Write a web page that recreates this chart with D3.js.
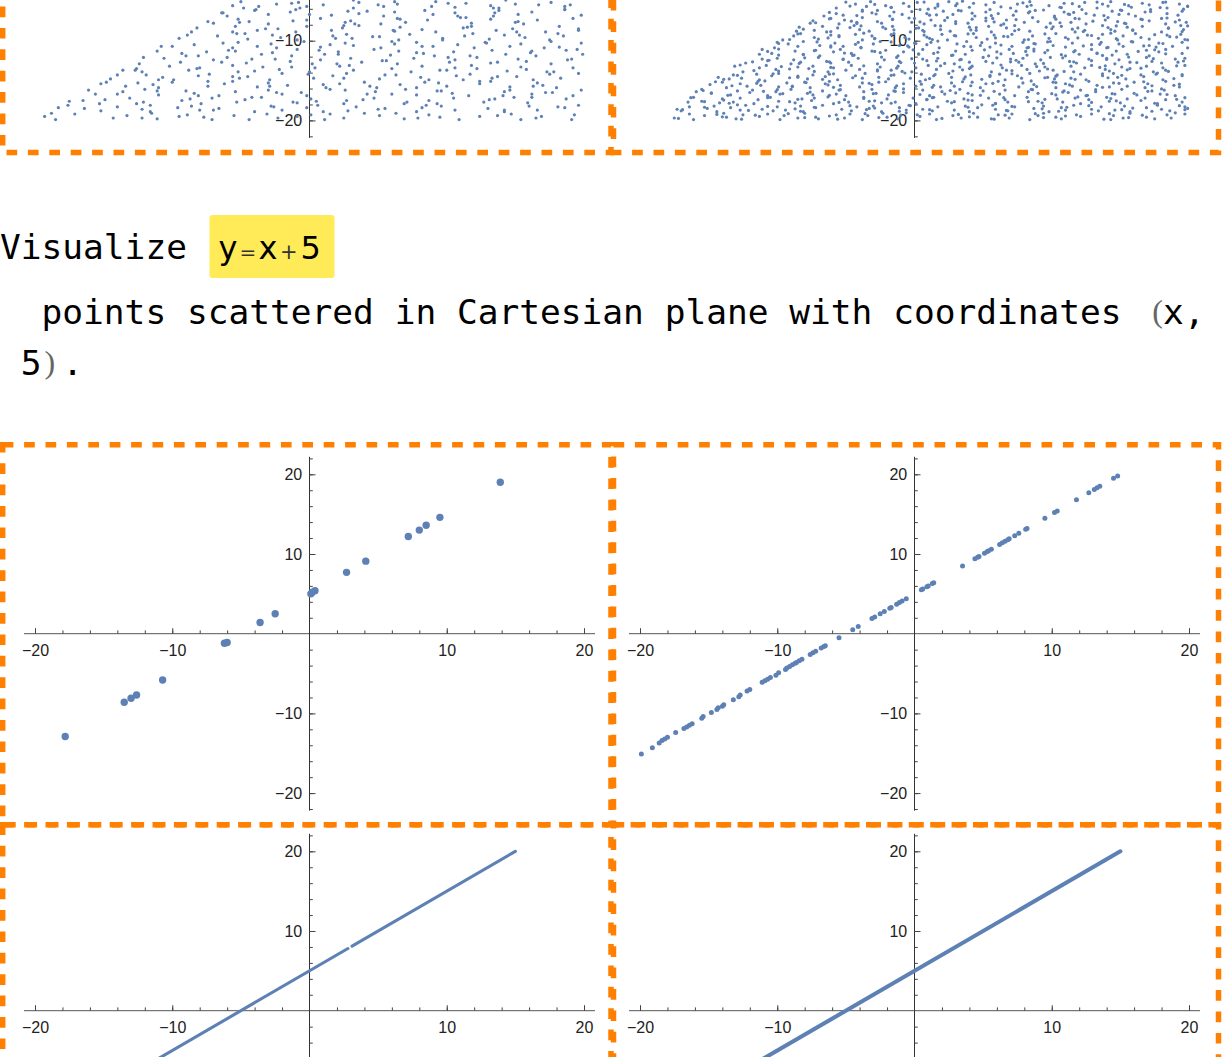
<!DOCTYPE html>
<html><head><meta charset="utf-8">
<script src="https://cdn.jsdelivr.net/npm/d3@7"></script>
<style>html,body{margin:0;padding:0;background:#fff;overflow:hidden}svg{display:block}</style>
</head><body>
<svg id="c" width="1226" height="1057"></svg>
<script>
// ---------------- data ----------------
const majorTicks = [-20, -10, 10, 20];
const majorTickLabels = ["\u221220", "\u221210", "10", "20"];
const xMinorTicks = [-20,-18,-16,-14,-12,-10,-8,-6,-4,-2,2,4,6,8,10,12,14,16,18,20];
const yMinorTicks = [-22,-20,-18,-16,-14,-12,-10,-8,-6,-4,-2,2,4,6,8,10,12,14,16,18,20,22];

// top-left panel: scattered points (x,y pairs), only the visible lower part
const topLeftXY = [
-19.3,-19.5,-18.5,-19.9,-17.1,-19.2,-14.3,-19.7,-13.3,-19.4,-11.5,-19.1,-11.1,-19.8,-8.9,-19.3,-7.7,-19.6,-7.1,-19.9,-5.5,-19.4,-3.1,-19.2,-2.3,-19.7,-0.9,-19.5,1.1,-19.9,1.5,-19.2,2.5,-19.7,5.1,-19.4,6.3,-19.1,6.9,-19.8,8.7,-19.3,9.5,-19.6,10.9,-19.9,13.7,-19.4,14.7,-19.2,16.5,-19.7,16.9,-19.5,19.1,-19.9,
-18.3,-18.4,-17.6,-18.1,-15.2,-18.8,-14.0,-18.3,-12.2,-18.6,-11.6,-18.9,-9.6,-18.4,-8.6,-18.2,-7.0,-18.7,-6.6,-18.5,-4.0,-18.9,-2.8,-18.2,-2.0,-18.7,-0.2,-18.4,0.6,-18.1,2.8,-18.8,3.4,-18.3,5.0,-18.6,7.8,-18.9,8.2,-18.4,9.6,-18.2,10.6,-18.7,13.0,-18.5,14.2,-18.9,16.0,-18.2,16.6,-18.7,18.6,-18.4,19.6,-18.1,
-17.5,-17.6,-15.3,-17.9,-14.9,-17.4,-13.1,-17.2,-12.1,-17.7,-9.3,-17.5,-7.9,-17.9,-7.1,-17.2,-5.3,-17.7,-4.7,-17.4,-3.5,-17.1,-0.9,-17.8,0.1,-17.3,0.5,-17.6,2.5,-17.9,3.9,-17.4,4.7,-17.2,7.1,-17.7,8.7,-17.5,9.3,-17.9,10.5,-17.2,12.7,-17.7,13.1,-17.4,14.9,-17.1,15.9,-17.8,18.7,-17.3,
-16.1,-16.2,-14.0,-16.7,-13.6,-16.4,-12.0,-16.1,-11.0,-16.8,-9.0,-16.3,-8.4,-16.6,-6.6,-16.9,-5.4,-16.4,-3.0,-16.2,-2.0,-16.7,-0.6,-16.5,-0.2,-16.9,2.6,-16.2,4.2,-16.7,4.8,-16.4,7.0,-16.1,7.8,-16.8,9.6,-16.3,10.4,-16.6,11.6,-16.9,14.2,-16.4,14.6,-16.2,16.2,-16.7,17.2,-16.5,19.2,-16.9,19.8,-16.2,
-15.2,-15.4,-14.8,-15.2,-13.4,-15.7,-11.4,-15.5,-11.0,-15.9,-10.0,-15.2,-7.4,-15.7,-6.2,-15.4,-5.6,-15.1,-3.8,-15.8,-3.0,-15.3,-1.6,-15.6,1.2,-15.9,2.2,-15.4,4.0,-15.2,4.4,-15.7,6.6,-15.5,7.8,-15.9,8.4,-15.2,10.0,-15.7,12.4,-15.4,13.2,-15.1,14.6,-15.8,16.6,-15.3,17.0,-15.6,18.0,-15.9,
-14.5,-14.8,-11.9,-14.3,-10.7,-14.6,-9.9,-14.9,-8.1,-14.4,-7.3,-14.2,-5.1,-14.7,-4.5,-14.5,-2.9,-14.9,-0.1,-14.2,0.3,-14.7,1.7,-14.4,2.7,-14.1,5.1,-14.8,6.3,-14.3,8.1,-14.6,8.7,-14.9,10.7,-14.4,11.7,-14.2,13.3,-14.7,13.7,-14.5,16.3,-14.9,17.5,-14.2,18.3,-14.7,
-13.6,-13.7,-12.6,-13.5,-12.2,-13.9,-10.2,-13.2,-8.8,-13.7,-8.0,-13.4,-5.6,-13.1,-4.0,-13.8,-3.4,-13.3,-2.2,-13.6,0.0,-13.9,0.4,-13.4,2.2,-13.2,3.2,-13.7,6.0,-13.5,7.4,-13.9,8.2,-13.2,10.0,-13.7,10.6,-13.4,11.8,-13.1,14.4,-13.8,15.4,-13.3,15.8,-13.6,17.8,-13.9,19.2,-13.4,
-12.4,-12.9,-10.6,-12.2,-9.4,-12.7,-7.0,-12.4,-6.0,-12.1,-4.6,-12.8,-4.2,-12.3,-1.4,-12.6,0.2,-12.9,0.8,-12.4,3.0,-12.2,3.8,-12.7,5.6,-12.5,6.4,-12.9,7.6,-12.2,10.2,-12.7,10.6,-12.4,12.2,-12.1,13.2,-12.8,15.2,-12.3,15.8,-12.6,17.6,-12.9,18.8,-12.4,
-11.1,-11.3,-9.3,-11.6,-8.1,-11.9,-7.5,-11.4,-5.9,-11.2,-3.5,-11.7,-2.7,-11.5,-1.3,-11.9,0.7,-11.2,1.1,-11.7,2.1,-11.4,4.7,-11.1,5.9,-11.8,6.5,-11.3,8.3,-11.6,9.1,-11.9,10.5,-11.4,13.3,-11.2,14.3,-11.7,16.1,-11.5,16.5,-11.9,18.7,-11.2,19.9,-11.7,
-10.0,-10.7,-8.4,-10.5,-5.6,-10.9,-5.2,-10.2,-3.8,-10.7,-2.8,-10.4,-0.4,-10.1,0.8,-10.8,2.6,-10.3,3.2,-10.6,5.2,-10.9,6.2,-10.4,7.8,-10.2,8.2,-10.7,10.8,-10.5,12.0,-10.9,12.8,-10.2,14.6,-10.7,15.4,-10.4,17.6,-10.1,18.2,-10.8,19.8,-10.3,
-9.5,-9.7,-6.7,-9.4,-5.3,-9.1,-4.5,-9.8,-2.7,-9.3,-2.1,-9.6,-0.9,-9.9,1.7,-9.4,2.7,-9.2,3.1,-9.7,5.1,-9.5,6.5,-9.9,7.3,-9.2,9.7,-9.7,11.3,-9.4,11.9,-9.1,13.1,-9.8,15.3,-9.3,15.7,-9.6,17.5,-9.9,18.5,-9.4,
-8.6,-8.9,-8.2,-8.4,-5.4,-8.2,-3.8,-8.7,-3.2,-8.5,-1.0,-8.9,-0.2,-8.2,1.6,-8.7,2.4,-8.4,3.6,-8.1,6.2,-8.8,6.6,-8.3,8.2,-8.6,9.2,-8.9,11.2,-8.4,11.8,-8.2,13.6,-8.7,14.8,-8.5,17.2,-8.9,18.2,-8.2,19.6,-8.7,
-7.4,-7.6,-7.0,-7.8,-5.2,-7.3,-4.4,-7.6,-3.0,-7.9,-0.2,-7.4,0.8,-7.2,2.6,-7.7,3.0,-7.5,5.2,-7.9,6.4,-7.2,7.0,-7.7,8.6,-7.4,11.0,-7.1,11.8,-7.8,13.2,-7.3,15.2,-7.6,15.6,-7.9,16.6,-7.4,19.2,-7.2,
-6.3,-6.5,-6.0,-6.9,-4.0,-6.2,-3.0,-6.7,-1.4,-6.4,-1.0,-6.1,1.6,-6.8,2.8,-6.3,3.6,-6.6,5.4,-6.9,6.2,-6.4,8.4,-6.2,9.0,-6.7,10.6,-6.5,13.4,-6.9,13.8,-6.2,15.2,-6.7,16.2,-6.4,18.6,-6.1,19.8,-6.8,
-5.6,-5.6,-4.8,-5.9,-2.4,-5.4,-0.8,-5.2,-0.2,-5.7,1.0,-5.5,3.2,-5.9,3.6,-5.2,5.4,-5.7,6.4,-5.4,9.2,-5.1,10.6,-5.8,11.4,-5.3,13.2,-5.6,13.8,-5.9,15.0,-5.4,17.6,-5.2,18.6,-5.7,19.0,-5.5,
-18.8,-19.1,-16.4,-18.5,-12.2,-19.7,-11.6,-18.1,-9.5,-19.5,-8.0,-18.7,-4.4,-19.9,-2.6,-18.3,0.1,-19.3,1.0,-18.9,4.0,-19.1,5.5,-18.5,7.9,-19.7,8.5,-18.1,12.4,-19.5,14.2,-18.7,15.4,-19.9,18.1,-18.3,19.3,-19.3,
-16.5,-17.5,-15.6,-16.7,-12.6,-17.9,-11.1,-16.3,-8.7,-17.3,-8.1,-16.9,-4.2,-17.1,-2.4,-16.5,-1.2,-17.7,1.5,-16.1,2.7,-17.5,6.0,-16.7,6.9,-17.9,9.3,-16.3,13.5,-17.3,14.1,-16.9,16.2,-17.1,17.7,-16.5,
-14.0,-14.3,-12.5,-15.3,-11.0,-14.9,-7.4,-15.1,-5.6,-14.5,-2.9,-15.7,-2.0,-14.1,1.0,-15.5,2.5,-14.7,4.9,-15.9,5.5,-14.3,9.4,-15.3,11.2,-14.9,12.4,-15.1,15.1,-14.5,16.3,-15.7,19.6,-14.1,
-12.7,-13.7,-12.1,-12.1,-8.2,-13.5,-6.4,-12.7,-5.2,-13.9,-2.5,-12.3,-1.3,-13.3,2.0,-12.9,2.9,-13.1,5.3,-12.5,9.5,-13.7,10.1,-12.1,12.2,-13.5,13.7,-12.7,17.3,-13.9,19.1,-12.3,
-10.8,-10.7,-9.0,-11.9,-6.3,-10.3,-5.4,-11.3,-2.4,-10.9,-0.9,-11.1,1.5,-10.5,2.1,-11.7,6.0,-10.1,7.8,-11.5,9.0,-10.7,11.7,-11.9,12.9,-10.3,16.2,-11.3,17.1,-10.9,19.5,-11.1,
-8.9,-9.3,-5.6,-8.9,-4.7,-9.1,-2.3,-8.5,1.9,-9.7,2.5,-8.1,4.6,-9.5,6.1,-8.7,9.7,-9.9,11.5,-8.3,14.2,-9.3,15.1,-8.9,18.1,-9.1,19.6,-8.5,
-6.4,-6.5,-5.1,-7.7,-3.9,-6.1,-1.2,-7.5,0.0,-6.7,3.3,-7.9,4.2,-6.3,6.6,-7.3,10.8,-6.9,11.4,-7.1,13.5,-6.5,15.0,-7.7,18.6,-6.1,
-5.0,-5.1,-3.7,-5.7,-1.3,-5.3,-0.7,-5.9,3.2,-4.9,5.0,-5.5,6.2,-5.1,8.9,-5.7,10.1,-5.3,13.4,-5.9,14.3,-4.9,16.7,-5.5
];

// top-right panel: denser scattered points (x,y pairs)
const topRightXY = [
-17.5,-19.7,-16.4,-19.2,-16.1,-19.9,-15.3,-19.4,-13.9,-19.1,-13.7,-19.6,-13.0,-19.8,-12.5,-19.3,-11.3,-19.5,-10.7,-19.2,-9.8,-19.9,-9.5,-19.4,-8.5,-19.7,-8.0,-19.1,-7.2,-19.6,-7.0,-19.8,-5.7,-19.3,-5.1,-19.7,-4.7,-19.2,-3.8,-19.9,-3.4,-19.4,-2.3,-19.1,-2.0,-19.6,-1.2,-19.8,0.2,-19.3,0.4,-19.5,1.1,-19.2,1.6,-19.9,2.8,-19.4,3.4,-19.7,4.3,-19.1,4.6,-19.6,5.6,-19.8,6.1,-19.3,6.9,-19.7,7.1,-19.2,8.4,-19.9,9.0,-19.4,9.4,-19.1,10.3,-19.6,10.7,-19.8,11.8,-19.3,12.1,-19.5,12.9,-19.2,14.3,-19.9,14.5,-19.4,15.2,-19.7,15.7,-19.1,16.9,-19.6,17.5,-19.8,18.4,-19.3,18.7,-19.7,19.7,-19.2,
-17.3,-18.6,-17.0,-18.8,-16.4,-18.3,-15.1,-18.5,-14.6,-18.2,-14.4,-18.9,-13.4,-18.4,-12.7,-18.7,-12.3,-18.1,-11.1,-18.6,-10.3,-18.8,-10.0,-18.3,-9.4,-18.7,-8.3,-18.2,-8.1,-18.9,-7.2,-18.4,-6.7,-18.1,-5.3,-18.6,-4.6,-18.8,-4.2,-18.3,-3.3,-18.5,-3.0,-18.2,-2.4,-18.9,-1.1,-18.4,-0.6,-18.7,-0.4,-18.1,0.6,-18.6,1.3,-18.8,1.7,-18.3,2.9,-18.7,3.7,-18.2,4.0,-18.9,4.6,-18.4,5.7,-18.1,5.9,-18.6,6.8,-18.8,7.3,-18.3,8.7,-18.5,9.4,-18.2,9.8,-18.9,10.7,-18.4,11.0,-18.7,11.6,-18.1,12.9,-18.6,13.4,-18.8,13.6,-18.3,14.6,-18.7,15.3,-18.2,15.7,-18.9,16.9,-18.4,17.7,-18.1,18.0,-18.6,18.6,-18.8,19.7,-18.3,19.9,-18.5,
-16.5,-17.7,-16.1,-17.1,-15.5,-17.6,-14.2,-17.8,-14.0,-17.3,-13.2,-17.7,-12.7,-17.2,-11.7,-17.9,-11.4,-17.4,-10.5,-17.1,-9.9,-17.6,-8.7,-17.8,-8.2,-17.3,-7.5,-17.5,-7.3,-17.2,-5.9,-17.9,-5.1,-17.4,-4.8,-17.7,-3.7,-17.1,-3.3,-17.6,-2.4,-17.8,-2.0,-17.3,-1.4,-17.7,-0.1,-17.2,0.1,-17.9,0.9,-17.4,1.4,-17.1,2.4,-17.6,2.7,-17.8,3.6,-17.3,4.2,-17.5,5.4,-17.2,5.9,-17.9,6.6,-17.4,6.8,-17.7,8.2,-17.1,9.0,-17.6,9.3,-17.8,10.4,-17.3,10.8,-17.7,11.7,-17.2,12.1,-17.9,12.7,-17.4,14.0,-17.1,14.2,-17.6,15.0,-17.8,15.5,-17.3,16.5,-17.5,16.8,-17.2,17.7,-17.9,18.3,-17.4,19.5,-17.7,
-15.9,-16.4,-15.5,-16.1,-14.8,-16.6,-13.4,-16.8,-12.9,-16.3,-12.0,-16.5,-11.8,-16.2,-10.7,-16.9,-10.1,-16.4,-9.8,-16.7,-9.0,-16.1,-7.8,-16.6,-7.4,-16.8,-6.7,-16.3,-5.7,-16.7,-5.5,-16.2,-5.0,-16.9,-3.7,-16.4,-3.1,-16.1,-2.8,-16.6,-1.9,-16.8,-1.5,-16.3,-0.8,-16.5,0.6,-16.2,1.1,-16.9,2.0,-16.4,2.2,-16.7,3.3,-16.1,3.9,-16.6,4.2,-16.8,5.0,-16.3,6.2,-16.7,6.6,-16.2,7.3,-16.9,8.3,-16.4,8.5,-16.1,9.0,-16.6,10.3,-16.8,10.9,-16.3,11.2,-16.5,12.1,-16.2,12.5,-16.9,13.2,-16.4,14.6,-16.7,15.1,-16.1,16.0,-16.6,16.2,-16.8,17.3,-16.3,17.9,-16.7,18.2,-16.2,19.0,-16.9,
-14.9,-15.5,-14.0,-15.2,-13.7,-15.9,-12.7,-15.4,-12.2,-15.7,-11.4,-15.1,-11.2,-15.6,-9.9,-15.8,-9.3,-15.3,-8.9,-15.7,-8.0,-15.2,-7.6,-15.9,-6.5,-15.4,-6.2,-15.1,-5.4,-15.6,-4.0,-15.8,-3.8,-15.3,-3.1,-15.5,-2.6,-15.2,-1.4,-15.9,-0.8,-15.4,0.1,-15.7,0.4,-15.1,1.4,-15.6,1.9,-15.8,2.7,-15.3,2.9,-15.7,4.2,-15.2,4.8,-15.9,5.2,-15.4,6.1,-15.1,6.5,-15.6,7.6,-15.8,7.9,-15.3,8.7,-15.5,10.1,-15.2,10.3,-15.9,11.0,-15.4,11.5,-15.7,12.7,-15.1,13.3,-15.6,14.2,-15.8,14.5,-15.3,15.5,-15.7,16.0,-15.2,16.8,-15.9,17.0,-15.4,18.3,-15.1,18.9,-15.6,19.3,-15.8,
-14.3,-14.6,-13.5,-14.8,-13.2,-14.3,-12.6,-14.7,-11.5,-14.2,-11.3,-14.9,-10.4,-14.4,-9.9,-14.1,-8.5,-14.6,-7.8,-14.8,-7.4,-14.3,-6.5,-14.5,-6.2,-14.2,-5.6,-14.9,-4.3,-14.4,-3.8,-14.7,-3.6,-14.1,-2.6,-14.6,-1.9,-14.8,-1.5,-14.3,-0.3,-14.7,0.5,-14.2,0.8,-14.9,1.4,-14.4,2.5,-14.1,2.7,-14.6,3.6,-14.8,4.1,-14.3,5.5,-14.5,6.2,-14.2,6.6,-14.9,7.5,-14.4,7.8,-14.7,8.4,-14.1,9.7,-14.6,10.2,-14.8,10.4,-14.3,11.4,-14.7,12.1,-14.2,12.5,-14.9,13.7,-14.4,14.5,-14.1,14.8,-14.6,15.4,-14.8,16.5,-14.3,16.7,-14.5,17.6,-14.2,18.1,-14.9,19.5,-14.4,
-13.1,-13.2,-12.5,-13.9,-11.3,-13.4,-10.8,-13.1,-10.1,-13.6,-9.9,-13.8,-8.5,-13.3,-7.7,-13.5,-7.4,-13.2,-6.3,-13.9,-5.9,-13.4,-5.0,-13.7,-4.6,-13.1,-4.0,-13.6,-2.7,-13.8,-2.5,-13.3,-1.7,-13.7,-1.2,-13.2,-0.2,-13.9,0.1,-13.4,1.0,-13.1,1.6,-13.6,2.8,-13.8,3.3,-13.3,4.0,-13.5,4.2,-13.2,5.6,-13.9,6.4,-13.4,6.7,-13.7,7.8,-13.1,8.2,-13.6,9.1,-13.8,9.5,-13.3,10.1,-13.7,11.4,-13.2,11.6,-13.9,12.4,-13.4,12.9,-13.1,13.9,-13.6,14.2,-13.8,15.1,-13.3,15.7,-13.5,16.9,-13.2,17.4,-13.9,18.1,-13.4,18.3,-13.7,19.7,-13.1,
-12.3,-12.8,-11.1,-12.3,-10.7,-12.5,-10.0,-12.2,-9.0,-12.9,-8.8,-12.4,-8.3,-12.7,-7.0,-12.1,-6.4,-12.6,-6.1,-12.8,-5.2,-12.3,-4.8,-12.7,-4.1,-12.2,-2.7,-12.9,-2.2,-12.4,-1.3,-12.1,-1.1,-12.6,0.0,-12.8,0.6,-12.3,0.9,-12.5,1.7,-12.2,2.9,-12.9,3.3,-12.4,4.0,-12.7,5.0,-12.1,5.2,-12.6,5.7,-12.8,7.0,-12.3,7.6,-12.7,7.9,-12.2,8.8,-12.9,9.2,-12.4,9.9,-12.1,11.3,-12.6,11.8,-12.8,12.7,-12.3,12.9,-12.5,14.0,-12.2,14.6,-12.9,14.9,-12.4,15.7,-12.7,16.9,-12.1,17.3,-12.6,18.0,-12.8,19.0,-12.3,19.2,-12.7,19.7,-12.2,
-11.3,-11.7,-11.1,-11.1,-10.4,-11.6,-9.9,-11.8,-8.7,-11.3,-8.1,-11.7,-7.2,-11.2,-6.9,-11.9,-5.9,-11.4,-5.4,-11.1,-4.6,-11.6,-4.4,-11.8,-3.1,-11.3,-2.5,-11.5,-2.1,-11.2,-1.2,-11.9,-0.8,-11.4,0.3,-11.7,0.6,-11.1,1.4,-11.6,2.8,-11.8,3.0,-11.3,3.7,-11.7,4.2,-11.2,5.4,-11.9,6.0,-11.4,6.9,-11.1,7.2,-11.6,8.2,-11.8,8.7,-11.3,9.5,-11.5,9.7,-11.2,11.0,-11.9,11.6,-11.4,12.0,-11.7,12.9,-11.1,13.3,-11.6,14.4,-11.8,14.7,-11.3,15.5,-11.7,16.9,-11.2,17.1,-11.9,17.8,-11.4,18.3,-11.1,19.5,-11.6,
-10.0,-10.2,-10.2,-10.9,-9.2,-10.4,-8.5,-10.7,-8.1,-10.1,-6.9,-10.6,-6.1,-10.8,-5.8,-10.3,-5.2,-10.7,-4.1,-10.2,-3.9,-10.9,-3.0,-10.4,-2.5,-10.1,-1.1,-10.6,-0.4,-10.8,0.0,-10.3,0.9,-10.5,1.2,-10.2,1.8,-10.9,3.1,-10.4,3.6,-10.7,3.8,-10.1,4.8,-10.6,5.5,-10.8,5.9,-10.3,7.1,-10.7,7.9,-10.2,8.2,-10.9,8.8,-10.4,9.9,-10.1,10.1,-10.6,11.0,-10.8,11.5,-10.3,12.9,-10.5,13.6,-10.2,14.0,-10.9,14.9,-10.4,15.2,-10.7,15.8,-10.1,17.1,-10.6,17.6,-10.8,17.8,-10.3,18.8,-10.7,19.5,-10.2,19.9,-10.9,
-9.6,-9.9,-8.8,-9.4,-8.3,-9.1,-7.3,-9.6,-7.0,-9.8,-6.1,-9.3,-5.5,-9.5,-4.3,-9.2,-3.8,-9.9,-3.1,-9.4,-2.9,-9.7,-1.5,-9.1,-0.7,-9.6,-0.4,-9.8,0.7,-9.3,1.1,-9.7,2.0,-9.2,2.4,-9.9,3.0,-9.4,4.3,-9.1,4.5,-9.6,5.3,-9.8,5.8,-9.3,6.8,-9.5,7.1,-9.2,8.0,-9.9,8.6,-9.4,9.8,-9.7,10.3,-9.1,11.0,-9.6,11.2,-9.8,12.6,-9.3,13.4,-9.7,13.7,-9.2,14.8,-9.9,15.2,-9.4,16.1,-9.1,16.5,-9.6,17.1,-9.8,18.4,-9.3,18.6,-9.5,19.4,-9.2,19.9,-9.9,
-8.6,-8.8,-8.4,-8.3,-7.3,-8.7,-6.7,-8.2,-6.4,-8.9,-5.6,-8.4,-4.4,-8.1,-4.0,-8.6,-3.3,-8.8,-2.3,-8.3,-2.1,-8.5,-1.6,-8.2,-0.3,-8.9,0.3,-8.4,0.6,-8.7,1.5,-8.1,1.9,-8.6,2.6,-8.8,4.0,-8.3,4.5,-8.7,5.4,-8.2,5.6,-8.9,6.7,-8.4,7.3,-8.1,7.6,-8.6,8.4,-8.8,9.6,-8.3,10.0,-8.5,10.7,-8.2,11.7,-8.9,11.9,-8.4,12.4,-8.7,13.7,-8.1,14.3,-8.6,14.6,-8.8,15.5,-8.3,15.9,-8.7,16.6,-8.2,18.0,-8.9,18.5,-8.4,19.4,-8.1,19.6,-8.6,
-7.6,-7.8,-7.4,-7.5,-6.1,-7.2,-5.5,-7.9,-5.1,-7.4,-4.2,-7.7,-3.8,-7.1,-2.7,-7.6,-2.4,-7.8,-1.6,-7.3,-0.2,-7.7,0.0,-7.2,0.7,-7.9,1.2,-7.4,2.4,-7.1,3.0,-7.6,3.9,-7.8,4.2,-7.3,5.2,-7.5,5.7,-7.2,6.5,-7.9,6.7,-7.4,8.0,-7.7,8.6,-7.1,9.0,-7.6,9.9,-7.8,10.3,-7.3,11.4,-7.7,11.7,-7.2,12.5,-7.9,13.9,-7.4,14.1,-7.1,14.8,-7.6,15.3,-7.8,16.5,-7.3,17.1,-7.5,18.0,-7.2,18.3,-7.9,19.3,-7.4,19.8,-7.7,
-6.6,-6.9,-5.7,-6.6,-5.2,-6.8,-3.8,-6.3,-3.1,-6.5,-2.7,-6.2,-1.8,-6.9,-1.5,-6.4,-0.9,-6.7,0.4,-6.1,0.9,-6.6,1.1,-6.8,2.1,-6.3,2.8,-6.7,3.2,-6.2,4.4,-6.9,5.2,-6.4,5.5,-6.1,6.1,-6.6,7.2,-6.8,7.4,-6.3,8.3,-6.5,8.8,-6.2,10.2,-6.9,10.9,-6.4,11.3,-6.7,12.2,-6.1,12.5,-6.6,13.1,-6.8,14.4,-6.3,14.9,-6.7,15.1,-6.2,16.1,-6.9,16.8,-6.4,17.2,-6.1,18.4,-6.6,19.2,-6.8,19.5,-6.3,
-5.7,-5.9,-4.3,-5.4,-3.5,-5.7,-3.2,-5.1,-2.1,-5.6,-1.7,-5.8,-0.8,-5.3,-0.4,-5.7,0.2,-5.2,1.5,-5.9,1.7,-5.4,2.5,-5.1,3.0,-5.6,4.0,-5.8,4.3,-5.3,5.2,-5.5,5.8,-5.2,7.0,-5.9,7.5,-5.4,8.2,-5.7,8.4,-5.1,9.8,-5.6,10.6,-5.8,10.9,-5.3,12.0,-5.7,12.4,-5.2,13.3,-5.9,13.7,-5.4,14.3,-5.1,15.6,-5.6,15.8,-5.8,16.6,-5.3,17.1,-5.5,18.1,-5.2,18.4,-5.9,19.3,-5.4,19.9,-5.7,
-17.2,-19.75,-14.4,-19.25,-14.0,-19.55,-12.6,-19.85,-11.6,-19.35,-9.2,-19.15,-8.0,-19.65,-6.2,-19.45,-5.6,-19.85,-3.6,-19.15,-2.6,-19.65,-1.0,-19.35,-0.6,-19.05,2.0,-19.75,3.2,-19.25,4.0,-19.55,5.8,-19.85,6.6,-19.35,8.8,-19.15,9.4,-19.65,11.0,-19.45,13.8,-19.85,14.2,-19.15,15.6,-19.65,16.6,-19.35,19.0,-19.05,
-16.9,-18.65,-15.3,-18.35,-12.9,-18.05,-12.1,-18.75,-10.7,-18.25,-8.7,-18.55,-8.3,-18.85,-7.3,-18.35,-4.7,-18.15,-3.5,-18.65,-2.9,-18.45,-1.1,-18.85,-0.3,-18.15,1.1,-18.65,3.9,-18.35,4.9,-18.05,6.7,-18.75,7.1,-18.25,9.3,-18.55,10.5,-18.85,11.1,-18.35,12.7,-18.15,15.1,-18.65,15.9,-18.45,17.3,-18.85,19.3,-18.15,19.7,-18.65,
-16.3,-17.15,-15.3,-17.65,-13.9,-17.45,-13.5,-17.85,-10.7,-17.15,-9.1,-17.65,-8.5,-17.35,-6.3,-17.05,-5.5,-17.75,-3.7,-17.25,-2.9,-17.55,-1.7,-17.85,0.9,-17.35,1.3,-17.15,2.9,-17.65,3.9,-17.45,5.9,-17.85,6.5,-17.15,8.3,-17.65,9.5,-17.35,11.9,-17.05,12.9,-17.75,14.3,-17.25,14.7,-17.55,17.5,-17.85,19.1,-17.35,19.7,-17.15,
-15.4,-16.25,-14.8,-16.55,-13.6,-16.85,-11.0,-16.35,-10.0,-16.15,-9.6,-16.65,-7.6,-16.45,-6.2,-16.85,-5.4,-16.15,-3.0,-16.65,-1.4,-16.35,-0.8,-16.05,0.4,-16.75,2.6,-16.25,3.0,-16.55,4.8,-16.85,5.8,-16.35,8.6,-16.15,10.0,-16.65,10.8,-16.45,12.6,-16.85,13.2,-16.15,14.4,-16.65,17.0,-16.35,18.0,-16.05,18.4,-16.75,
-14.5,-15.15,-13.3,-15.65,-11.5,-15.35,-10.9,-15.05,-8.9,-15.75,-7.9,-15.25,-6.3,-15.55,-5.9,-15.85,-3.3,-15.35,-2.1,-15.15,-1.3,-15.65,0.5,-15.45,1.3,-15.85,3.5,-15.15,4.1,-15.65,5.7,-15.35,8.5,-15.05,8.9,-15.75,10.3,-15.25,11.3,-15.55,13.7,-15.85,14.9,-15.35,16.7,-15.15,17.3,-15.65,19.3,-15.45,
-13.9,-14.85,-12.9,-14.35,-10.3,-14.15,-9.1,-14.65,-8.5,-14.45,-6.7,-14.85,-5.9,-14.15,-4.5,-14.65,-1.7,-14.35,-0.7,-14.05,1.1,-14.75,1.5,-14.25,3.7,-14.55,4.9,-14.85,5.5,-14.35,7.1,-14.15,9.5,-14.65,10.3,-14.45,11.7,-14.85,13.7,-14.15,14.1,-14.65,15.1,-14.35,17.7,-14.05,18.9,-14.75,19.5,-14.25,
-12.7,-13.05,-11.7,-13.75,-9.7,-13.25,-9.1,-13.55,-7.3,-13.85,-6.1,-13.35,-3.7,-13.15,-2.7,-13.65,-1.3,-13.45,-0.9,-13.85,1.9,-13.15,3.5,-13.65,4.1,-13.35,6.3,-13.05,7.1,-13.75,8.9,-13.25,9.7,-13.55,10.9,-13.85,13.5,-13.35,13.9,-13.15,15.5,-13.65,16.5,-13.45,18.5,-13.85,19.1,-13.15,
-11.8,-12.65,-10.6,-12.45,-8.4,-12.85,-8.0,-12.15,-6.2,-12.65,-5.2,-12.35,-2.4,-12.05,-1.0,-12.75,-0.2,-12.25,1.6,-12.55,2.2,-12.85,3.4,-12.35,6.0,-12.15,7.0,-12.65,7.4,-12.45,9.4,-12.85,10.8,-12.15,11.6,-12.65,14.0,-12.35,15.6,-12.05,16.2,-12.75,17.4,-12.25,19.6,-12.55,
-10.7,-11.35,-9.9,-11.05,-8.1,-11.75,-7.3,-11.25,-5.1,-11.55,-4.5,-11.85,-2.9,-11.35,-0.1,-11.15,0.3,-11.65,1.7,-11.45,2.7,-11.85,5.1,-11.15,6.3,-11.65,8.1,-11.35,8.7,-11.05,10.7,-11.75,11.7,-11.25,13.3,-11.55,13.7,-11.85,16.3,-11.35,17.5,-11.15,18.3,-11.65,
-9.9,-10.35,-7.1,-10.15,-6.1,-10.65,-4.3,-10.45,-3.9,-10.85,-1.7,-10.15,-0.5,-10.65,0.1,-10.35,1.7,-10.05,4.1,-10.75,4.9,-10.25,6.3,-10.55,8.3,-10.85,8.7,-10.35,9.7,-10.15,12.3,-10.65,13.5,-10.45,14.1,-10.85,15.9,-10.15,16.7,-10.65,18.1,-10.35,
-9.1,-9.85,-8.5,-9.15,-6.3,-9.65,-5.5,-9.35,-3.7,-9.05,-2.9,-9.75,-1.7,-9.25,0.9,-9.55,1.3,-9.85,2.9,-9.35,3.9,-9.15,5.9,-9.65,6.5,-9.45,8.3,-9.85,9.5,-9.15,11.9,-9.65,12.9,-9.35,14.3,-9.05,14.7,-9.75,17.5,-9.25,19.1,-9.55,19.7,-9.85,
-8.1,-8.55,-6.1,-8.85,-4.7,-8.35,-3.9,-8.15,-1.5,-8.65,0.1,-8.45,0.7,-8.85,1.9,-8.15,4.1,-8.65,4.5,-8.35,6.3,-8.05,7.3,-8.75,10.1,-8.25,11.5,-8.55,12.3,-8.85,14.1,-8.35,14.7,-8.15,15.9,-8.65,18.5,-8.45,19.5,-8.85,19.9,-8.15,
-7.2,-7.75,-6.2,-7.25,-4.6,-7.55,-4.2,-7.85,-1.6,-7.35,-0.4,-7.15,0.4,-7.65,2.2,-7.45,3.0,-7.85,5.2,-7.15,5.8,-7.65,7.4,-7.35,10.2,-7.05,10.6,-7.75,12.0,-7.25,13.0,-7.55,15.4,-7.85,16.6,-7.35,18.4,-7.15,19.0,-7.65,
-6.2,-6.45,-4.2,-6.85,-3.8,-6.15,-2.8,-6.65,-0.2,-6.35,1.0,-6.05,1.6,-6.75,3.4,-6.25,4.2,-6.55,5.6,-6.85,8.4,-6.35,9.4,-6.15,11.2,-6.65,11.6,-6.45,13.8,-6.85,15.0,-6.15,15.6,-6.65,17.2,-6.35,19.6,-6.05,
-5.0,-5.15,-4.7,-5.65,-2.9,-5.45,-1.7,-5.85,0.7,-5.15,1.7,-5.65,3.1,-5.35,3.5,-5.05,6.3,-5.75,7.9,-5.25,8.5,-5.55,10.7,-5.85,11.5,-5.35,13.3,-5.15,14.1,-5.65,15.3,-5.45,17.9,-5.85,18.3,-5.15,19.9,-5.65
];

// middle-left panel: few points
const midLeftX = [-17.8,-13.5,-13.0,-12.6,-10.7,-6.2,-6.0,-3.6,-2.5,0.1,0.2,0.4,2.7,4.1,7.2,8.0,8.5,9.5,13.9];
const midLeftY = [-12.9,-8.6,-8.1,-7.7,-5.8,-1.2,-1.1,1.4,2.5,5.0,5.2,5.4,7.7,9.1,12.2,13.0,13.6,14.6,19.0];

// middle-right panel: more points
const midRightX = [-19.9,-19.1,-18.6,-18.4,-18.2,-18.0,-17.4,-16.8,-16.6,-16.4,-16.2,-15.5,-15.4,-14.8,-14.4,-14.3,-14.0,-13.9,-13.2,-12.8,-12.7,-12.2,-12.0,-11.1,-10.9,-10.7,-10.5,-10.1,-9.9,-9.4,-9.3,-9.1,-8.9,-8.7,-8.6,-8.4,-8.2,-7.6,-7.4,-7.2,-6.8,-6.6,-6.5,-5.5,-4.5,-4.1,-3.1,-2.9,-2.5,-2.2,-1.8,-1.7,-1.3,-1.1,-0.9,-0.6,0.5,0.6,0.9,1.0,1.3,1.4,3.5,4.4,4.6,4.7,5.1,5.3,5.4,5.6,6.2,6.4,6.6,6.8,6.9,7.3,7.6,8.1,8.2,9.5,10.2,10.4,11.8,12.7,13.1,13.3,13.5,14.5,14.8];
const midRightY = [-15.1,-14.3,-13.7,-13.4,-13.2,-13.0,-12.4,-11.9,-11.7,-11.5,-11.3,-10.6,-10.4,-9.9,-9.5,-9.3,-9.1,-8.9,-8.3,-7.9,-7.7,-7.2,-7.0,-6.1,-5.9,-5.7,-5.5,-5.2,-4.9,-4.5,-4.3,-4.1,-3.9,-3.7,-3.6,-3.4,-3.2,-2.6,-2.4,-2.2,-1.8,-1.6,-1.5,-0.5,0.5,0.9,1.9,2.1,2.5,2.8,3.2,3.3,3.7,3.9,4.1,4.4,5.5,5.6,5.9,6.0,6.3,6.4,8.5,9.4,9.6,9.7,10.1,10.3,10.4,10.6,11.2,11.4,11.6,11.8,11.9,12.3,12.6,13.1,13.2,14.5,15.2,15.4,16.8,17.7,18.1,18.3,18.5,19.5,19.8];

// bottom panels: so many points that they form continuous strokes [x1,y1,x2,y2]
const bottomLeftSegments = [[-20,-15,2.8,7.8],[3.1,8.1,15,20]];
const bottomRightSegments = [[-20,-15,15,20]];

// text
const introWord = "Visualize";
const equationParts = ["y","=","x","+","5"];
const sentenceLine1 = "points scattered in Cartesian plane with coordinates";
const sentenceTail1 = "x,";
const sentenceLine2 = "5";

// ---------------- drawing ----------------
const BLUE = "#5E81B5", ORANGE = "#FF8000";
const VIEW_H = 1057;
const svg = d3.select("#c");
const colZero = [309.5, 914.5];
const rowZero = [-39, 633.7, 1010.7];
const PX = 13.725, PY = 7.97;

function scales(c, r) {
  return {
    x: d3.scaleLinear().domain([-20, 20]).range([colZero[c] - 20 * PX, colZero[c] + 20 * PX]),
    y: d3.scaleLinear().domain([-20, 20]).range([rowZero[r] + 20 * PY, rowZero[r] - 20 * PY])
  };
}

function styleAxis(g) {
  g.select(".domain").remove();
  g.selectAll(".tick line").attr("stroke", "#444").attr("stroke-width", 1);
  g.selectAll(".tick text").attr("fill", "#222").attr("font-family", "'Liberation Sans', Arial, sans-serif").attr("font-size", 16);
  g.attr("font-family", null).attr("font-size", null);
}

function axes(c, r) {
  const { x, y } = scales(c, r);
  const g = svg.append("g");
  const y0 = y(0);
  const onScreen = v => v > 6 && v < VIEW_H - 4;
  if (y0 > -30) {
    g.append("line").attr("x1", x(-20.8)).attr("x2", x(20.8)).attr("y1", y0).attr("y2", y0)
      .attr("stroke", "#555").attr("stroke-width", 1);
    g.append("g").attr("transform", `translate(0,${y0})`)
      .call(d3.axisBottom(x).tickValues(xMinorTicks).tickSize(-3.3).tickFormat("")).call(styleAxis);
    if (onScreen(y0 + 22)) {
      g.append("g").attr("transform", `translate(0,${y0})`)
        .call(d3.axisBottom(x).tickValues(majorTicks).tickSize(-5.5).tickPadding(10.6)
          .tickFormat((d, i) => majorTickLabels[i])).call(styleAxis);
    }
  }
  g.append("line").attr("x1", x(0)).attr("x2", x(0)).attr("y1", y(-22.2)).attr("y2", y(22.2))
    .attr("stroke", "#333").attr("stroke-width", 1);
  g.append("g").attr("transform", `translate(${x(0)},0)`)
    .call(d3.axisLeft(y).tickValues(yMinorTicks.filter(v => y(v) > -2)).tickSize(-3.3).tickFormat("")).call(styleAxis);
  const visMajor = majorTicks.map((v, i) => [v, majorTickLabels[i]]).filter(d => onScreen(y(d[0])));
  g.append("g").attr("transform", `translate(${x(0)},0)`)
    .call(d3.axisLeft(y).tickValues(visMajor.map(d => d[0])).tickSize(-6).tickPadding(7.3)
      .tickFormat((d, i) => visMajor[i][1])).call(styleAxis);
  g.selectAll(".tick text").filter(function(){ return this.textContent === ""; }).remove();
  return { x, y };
}

function pairs(flat) { const out = []; for (let i = 0; i < flat.length; i += 2) out.push([flat[i], flat[i + 1]]); return out; }

function dots(c, r, data, radius) {
  const { x, y } = scales(c, r);
  svg.append("g").selectAll("circle").data(data).join("circle")
    .attr("cx", d => x(d[0])).attr("cy", d => y(d[1])).attr("r", radius).attr("fill", BLUE);
}

function segs(c, r, data, w) {
  const { x, y } = scales(c, r);
  svg.append("g").selectAll("line").data(data).join("line")
    .attr("x1", d => x(d[0])).attr("y1", d => y(d[1])).attr("x2", d => x(d[2])).attr("y2", d => y(d[3]))
    .attr("stroke", BLUE).attr("stroke-width", w).attr("stroke-linecap", "round");
}

// panels
axes(0, 0); dots(0, 0, pairs(topLeftXY), 1.6);
axes(1, 0); dots(1, 0, pairs(topRightXY), 1.6);
axes(0, 1); dots(0, 1, midLeftX.map((v, i) => [v, midLeftY[i]]), 3.7);
axes(1, 1); dots(1, 1, midRightX.map((v, i) => [v, midRightY[i]]), 2.5);
axes(0, 2); segs(0, 2, bottomLeftSegments, 3.1);
axes(1, 2); segs(1, 2, bottomRightSegments, 4.1);

// dashed cell frames
const frames = [
  [2.7, -229, 611, 152.5], [613.5, -229, 1218.5, 152.5],
  [2.7, 444.7, 611, 824.7], [613.5, 444.7, 1218.5, 824.7],
  [2.7, 824.7, 611, 1206], [613.5, 824.7, 1218.5, 1206]
];
svg.append("g").selectAll("rect").data(frames).join("rect")
  .attr("x", d => d[0]).attr("y", d => d[1]).attr("width", d => d[2] - d[0]).attr("height", d => d[3] - d[1])
  .attr("fill", "none").attr("stroke", ORANGE).attr("stroke-width", 5.5).attr("stroke-dasharray", "10.7 10.7");

// text block
const MONO = "'DejaVu Sans Mono', monospace";
const CW = 20.77;
svg.append("text").attr("x", 0).attr("y", 259).attr("font-family", MONO).attr("font-size", 34.5)
  .attr("fill", "#000").text(introWord);
svg.append("rect").attr("x", 209.5).attr("y", 215).attr("width", 125).attr("height", 63).attr("rx", 3)
  .attr("fill", "#FFEB57");
const eqX = [218.5, 239.5, 258.5, 280, 300.5];
const eqSize = [32, 20, 32, 21, 32];
const eq = svg.append("text").attr("y", 259).attr("font-family", "'DejaVu Sans', sans-serif").attr("fill", "#000");
equationParts.forEach((p, i) => {
  eq.append("tspan").attr("x", eqX[i]).attr("font-size", eqSize[i]).attr("fill", i % 2 ? "#333" : "#000").text(p);
});
svg.append("text").attr("x", 2 * CW).attr("y", 324).attr("font-family", MONO).attr("font-size", 34.5)
  .attr("fill", "#000").text(sentenceLine1);
svg.append("text").attr("x", 2 * CW + 53 * CW + 10).attr("y", 322).attr("font-family", "'Liberation Serif', serif")
  .attr("font-size", 32).attr("fill", "#666").text("(");
svg.append("text").attr("x", 2 * CW + 54 * CW).attr("y", 324).attr("font-family", MONO).attr("font-size", 34.5)
  .attr("fill", "#000").text(sentenceTail1);
svg.append("text").attr("x", CW).attr("y", 375).attr("font-family", MONO).attr("font-size", 34.5)
  .attr("fill", "#000").text(sentenceLine2);
svg.append("text").attr("x", 2 * CW + 3).attr("y", 373).attr("font-family", "'Liberation Serif', serif")
  .attr("font-size", 32).attr("fill", "#666").text(")");
svg.append("text").attr("x", 3 * CW).attr("y", 375).attr("font-family", MONO).attr("font-size", 34.5)
  .attr("fill", "#000").text(".");
</script>
</body></html>
